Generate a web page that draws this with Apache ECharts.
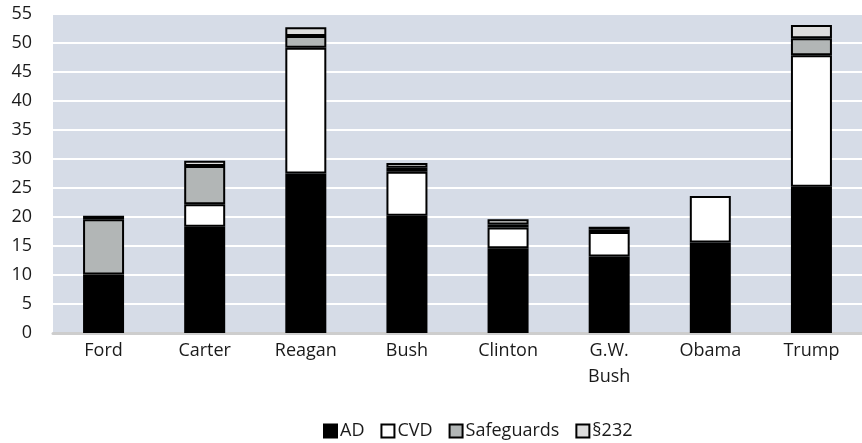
<!DOCTYPE html>
<html>
<head>
<meta charset="utf-8">
<script src="https://cdn.jsdelivr.net/npm/echarts@6/dist/echarts.min.js"></script>
<style>
  html, body { margin: 0; padding: 0; background: #fff; }
  #chart { width: 862px; height: 443px; }
</style>
</head>
<body>
<div id="chart"></div>
<script>
// Trade remedy actions by administration (stacked by instrument)
const presidents = ['Ford', 'Carter', 'Reagan', 'Bush', 'Clinton', 'G.W.\nBush', 'Obama', 'Trump'];
const ad         = [10.1, 18.3, 27.5, 20.2, 14.6, 13.2, 15.6, 25.2];
const cvd        = [0,    3.9,  21.7, 7.6,  3.6,  4.2,  8.0,  22.7];
const safeguards = [9.5,  6.6,  2.0,  0.7,  0.5,  0.5,  0,    2.9];
const sec232     = [0.6,  0.9,  1.5,  0.8,  0.9,  0.4,  0,    2.3];
const yTicks     = { min: 0, max: 55, step: 5 };

const seriesDefs = [
  { name: 'AD',         data: ad,         color: '#000000' },
  { name: 'CVD',        data: cvd,        color: '#ffffff' },
  { name: 'Safeguards', data: safeguards, color: '#b2b6b6' },
  { name: '§232',       data: sec232,     color: '#dddddd' }
];

const textColor = '#1a1a1a';
const font = '"Open Sans", "Noto Sans", sans-serif';

// empty segments are skipped so they do not leave a stray border line
const asBarData = arr => arr.map(v => (v === 0 ? '-' : v));

const chart = echarts.init(document.getElementById('chart'), null, { renderer: 'canvas' });
chart.setOption({
  animation: false,
  backgroundColor: '#ffffff',
  grid: {
    left: 53, right: 0, top: 14, bottom: 110,
    show: true, backgroundColor: '#d6dce7', borderWidth: 0
  },
  legend: {
    top: 417,
    left: 318,
    padding: 5,
    itemWidth: 13,
    itemHeight: 13,
    itemGap: 16,
    icon: 'rect',
    textStyle: { color: textColor, fontSize: 18, fontFamily: font, padding: [0, 0, 0, -2] },
    data: seriesDefs.map(s => ({ name: s.name, itemStyle: { color: s.color, borderColor: '#000', borderWidth: 2 } }))
  },
  xAxis: {
    type: 'category',
    data: presidents,
    axisLine: { show: true, lineStyle: { color: '#cdcdcd', width: 3 } },
    axisTick: { show: false },
    axisLabel: { color: textColor, fontSize: 18, fontFamily: font, margin: 5, lineHeight: 26, interval: 0 }
  },
  yAxis: {
    type: 'value',
    min: yTicks.min, max: yTicks.max, interval: yTicks.step,
    axisLine: { show: false },
    axisTick: { show: false },
    axisLabel: { color: textColor, fontSize: 18, fontFamily: font, margin: 21 },
    splitLine: { show: true, lineStyle: { color: '#ffffff', width: 2 } }
  },
  series: seriesDefs.map(s => ({
    name: s.name,
    type: 'bar',
    stack: 'total',
    barWidth: 41,
    data: asBarData(s.data),
    itemStyle: { color: s.color, borderColor: '#000000', borderWidth: 2 }
  }))
});
</script>
</body>
</html>
